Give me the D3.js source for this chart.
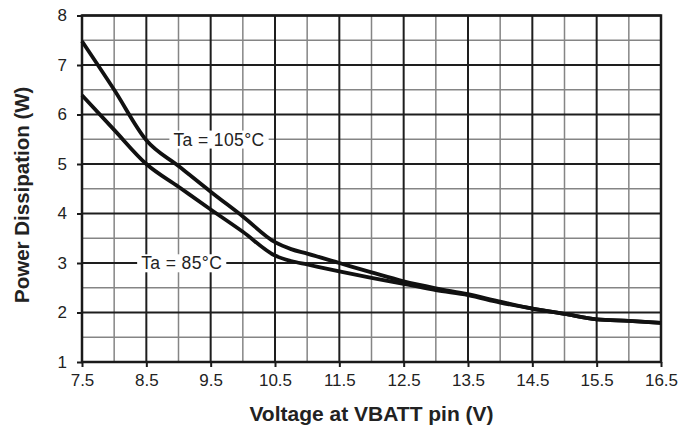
<!DOCTYPE html>
<html>
<head>
<meta charset="utf-8">
<script src="https://cdn.jsdelivr.net/npm/d3@7"></script>
<style>
  body { margin: 0; background: #fff; }
  text { font-family: "Liberation Sans", Arial, Helvetica, sans-serif; }
</style>
</head>
<body>
<div id="chart"></div>
<script>
'use strict';

// voltage at VBATT pin (V)
const voltage = [7.5, 8.0, 8.5, 9.0, 9.5, 10.0, 10.5, 10.75, 11.0, 11.5, 12.0, 12.5, 13.0, 13.5, 14.0, 14.5, 15.0, 15.5, 16.0, 16.5];
// power dissipation (W)
const p105 = [7.48, 6.5, 5.48, 4.96, 4.44, 3.94, 3.42, 3.28, 3.19, 3.0, 2.81, 2.63, 2.49, 2.37, 2.22, 2.08, 1.97, 1.86, 1.83, 1.79];
const p85 = [6.39, 5.69, 5.0, 4.54, 4.08, 3.63, 3.15, 3.04, 2.97, 2.83, 2.70, 2.58, 2.45, 2.35, 2.20, 2.08, 1.97, 1.86, 1.83, 1.79];

const xTicks = [7.5, 8.5, 9.5, 10.5, 11.5, 12.5, 13.5, 14.5, 15.5, 16.5];
const xMinor = [8, 9, 10, 11, 12, 13, 14, 15, 16];
const yTicks = [1, 2, 3, 4, 5, 6, 7, 8];
const yMinor = [1.5, 2.5, 3.5, 4.5, 5.5, 6.5, 7.5];

const labels = ["Ta = 105°C", "Ta = 85°C"];

const width = 680;
const height = 429;
const margin = { top: 15.5, right: 19, bottom: 67, left: 82 };

const svg = d3.select("#chart").append("svg")
    .attr("width", width)
    .attr("height", height);

const x = d3.scaleLinear().domain([7.5, 16.5]).range([margin.left, width - margin.right]);
const y = d3.scaleLinear().domain([1, 8]).range([height - margin.bottom, margin.top]);

const g = svg.append("g");

// minor grid
g.selectAll(".vminor").data(xMinor).join("line")
    .attr("x1", d => x(d)).attr("x2", d => x(d))
    .attr("y1", y(1)).attr("y2", y(8))
    .attr("stroke", "#858585").attr("stroke-width", 1.5);
g.selectAll(".hminor").data(yMinor).join("line")
    .attr("x1", x(7.5)).attr("x2", x(16.5))
    .attr("y1", d => y(d)).attr("y2", d => y(d))
    .attr("stroke", "#858585").attr("stroke-width", 1.5);

// major grid
g.selectAll(".vmajor").data(xTicks).join("line")
    .attr("x1", d => x(d)).attr("x2", d => x(d))
    .attr("y1", y(1)).attr("y2", y(8))
    .attr("stroke", "#1e1e1e").attr("stroke-width", 2);
g.selectAll(".hmajor").data(yTicks).join("line")
    .attr("x1", x(7.5)).attr("x2", x(16.5))
    .attr("y1", d => y(d)).attr("y2", d => y(d))
    .attr("stroke", "#1e1e1e").attr("stroke-width", 2);

// frame
g.append("rect")
    .attr("x", x(7.5)).attr("y", y(8))
    .attr("width", x(16.5) - x(7.5)).attr("height", y(1) - y(8))
    .attr("fill", "none").attr("stroke", "#1a1a1a").attr("stroke-width", 2.5);

// axes
const xAxis = svg.append("g")
    .attr("transform", `translate(0,${y(1)})`)
    .call(d3.axisBottom(x).tickValues(xTicks).tickSize(5).tickPadding(7).tickFormat(d3.format(".1f")));
const yAxis = svg.append("g")
    .attr("transform", `translate(${x(7.5)},0)`)
    .call(d3.axisLeft(y).tickValues(yTicks).tickSize(5).tickPadding(10).tickFormat(d3.format("d")));
[xAxis, yAxis].forEach(a => {
    a.select(".domain").remove();
    a.selectAll(".tick line").attr("stroke", "#1a1a1a").attr("stroke-width", 2);
    a.selectAll(".tick text")
        .attr("font-family", "Liberation Sans, Arial, sans-serif")
        .attr("font-size", 17).attr("fill", "#222");
});

// curve labels with white boxes over the grid
const labelPos = [[9.63, 5.5], [9.05, 3.0]];
labelPos.forEach(([lx, ly], i) => {
    const lg = svg.append("g");
    const t = lg.append("text")
        .attr("x", x(lx)).attr("y", y(ly))
        .attr("dy", "0.36em")
        .attr("text-anchor", "middle")
        .attr("font-size", 17.5)
        .attr("letter-spacing", 0.4)
        .attr("fill", "#222")
        .text(labels[i]);
    const b = t.node().getBBox();
    lg.insert("rect", "text")
        .attr("x", b.x - 4).attr("y", b.y + 1)
        .attr("width", b.width + 8).attr("height", b.height - 2)
        .attr("fill", "#fff");
});

// curves
const line = d3.line()
    .x((d, i) => x(voltage[i]))
    .y(d => y(d))
    .curve(d3.curveMonotoneX);
[p105, p85].forEach(s => {
    svg.append("path")
        .attr("d", line(s))
        .attr("fill", "none")
        .attr("stroke", "#111")
        .attr("stroke-width", 3.8)
        .attr("stroke-linejoin", "round");
});

// axis titles
svg.append("text")
    .attr("x", (x(7.5) + x(16.5)) / 2).attr("y", 421)
    .attr("text-anchor", "middle")
    .attr("font-size", 21).attr("font-weight", "bold").attr("fill", "#222")
    .text("Voltage at VBATT pin (V)");
svg.append("text")
    .attr("transform", `translate(29,${(y(1) + y(8)) / 2 + 6}) rotate(-90)`)
    .attr("text-anchor", "middle")
    .attr("font-size", 20.5).attr("font-weight", "bold").attr("fill", "#222")
    .text("Power Dissipation (W)");
</script>
</body>
</html>
